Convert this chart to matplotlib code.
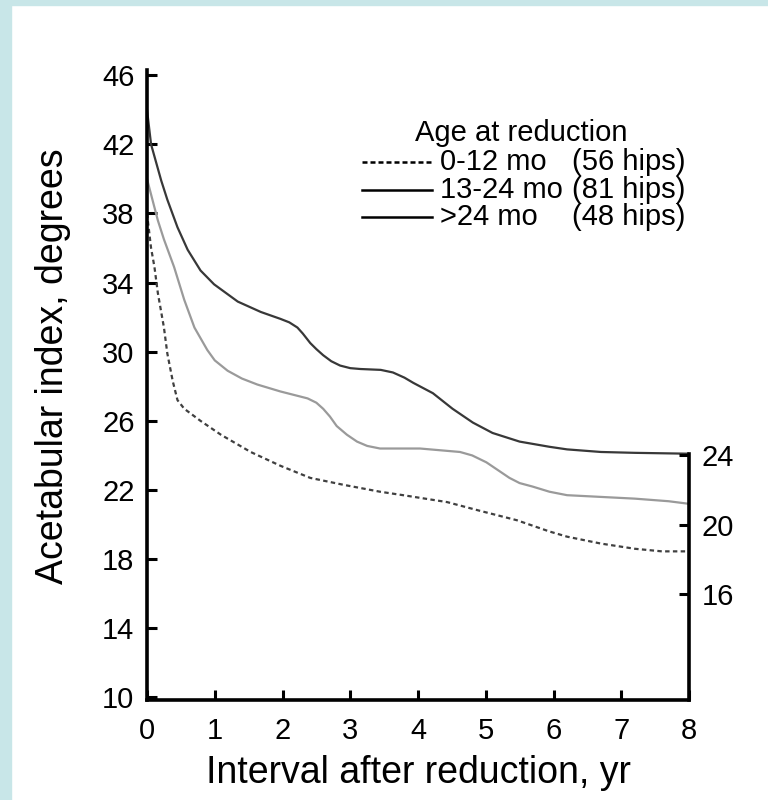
import numpy as np
import matplotlib.pyplot as plt
from matplotlib.lines import Line2D
from matplotlib.patches import Rectangle

plt.rcParams['font.family'] = ['Liberation Sans', 'DejaVu Sans']

# Acetabular index over time, by age at reduction
x_young = [0, 0.06, 0.11, 0.16, 0.25, 0.3, 0.38, 0.45, 0.55, 0.79, 1.09, 1.53, 1.97,
           2.41, 2.9, 3.44, 3.78, 4.43, 4.91, 5.46, 5.94, 6.2, 6.7, 7.2, 7.6, 8.0]
y_young = [38.0, 36.0, 34.9, 33.4, 31.4, 29.9, 28.3, 27.2, 26.7, 26.0, 25.2, 24.2, 23.4,
           22.7, 22.3, 21.9, 21.7, 21.3, 20.8, 20.25, 19.6, 19.3, 18.9, 18.6, 18.45, 18.45]

x_mid = [0, 0.08, 0.16, 0.25, 0.4, 0.55, 0.7, 0.89, 1.0, 1.19, 1.4, 1.63, 1.97, 2.37, 2.5,
         2.6, 2.7, 2.8, 2.95, 3.1, 3.25, 3.44, 4.03, 4.62, 4.8, 5.01, 5.18, 5.35, 5.5,
         5.69, 5.94, 6.2, 6.7, 7.2, 7.7, 8.0]
y_mid = [40.0, 38.8, 37.6, 36.5, 34.9, 33.0, 31.4, 30.1, 29.5, 28.9, 28.45, 28.1, 27.7, 27.3,
         27.05, 26.7, 26.25, 25.7, 25.2, 24.8, 24.55, 24.4, 24.4, 24.2, 24.0, 23.6, 23.15,
         22.7, 22.4, 22.2, 21.9, 21.7, 21.6, 21.5, 21.35, 21.2]

x_old = [0, 0.06, 0.11, 0.21, 0.3, 0.45, 0.6, 0.79, 0.99, 1.34, 1.68, 1.97, 2.1, 2.22, 2.3,
         2.41, 2.5, 2.6, 2.72, 2.85, 3.0, 3.15, 3.45, 3.63, 3.8, 3.93, 4.22, 4.51, 4.81,
         5.1, 5.5, 5.94, 6.2, 6.7, 7.2, 8.0]
y_old = [44.0, 42.0, 41.3, 39.9, 38.8, 37.2, 35.9, 34.7, 33.9, 32.9, 32.3, 31.9, 31.7, 31.4,
         31.05, 30.5, 30.15, 29.8, 29.45, 29.2, 29.05, 29.0, 28.95, 28.8, 28.5, 28.2, 27.6,
         26.7, 25.9, 25.3, 24.8, 24.5, 24.35, 24.2, 24.15, 24.1]

group_names = ['0-12 mo', '13-24 mo', '>24 mo']
group_hips = ['(56 hips)', '(81 hips)', '(48 hips)']
left_ticks = [10, 14, 18, 22, 26, 30, 34, 38, 42, 46]
right_ticks = [16, 20, 24]
x_ticks = [0, 1, 2, 3, 4, 5, 6, 7, 8]

fig = plt.figure(figsize=(7.68, 8), dpi=100)
fig.patches.append(Rectangle((0, 0), 11 / 768, 1, transform=fig.transFigure,
                             color='#c8e6e8', zorder=0))
fig.patches.append(Rectangle((0, 1 - 5 / 800), 1, 5 / 800, transform=fig.transFigure,
                             color='#c8e6e8', zorder=0))

ax = fig.add_axes([147 / 768, 100 / 800, 542 / 768, 630 / 800])
ax.patch.set_alpha(0)

ax.plot(x_young, y_young, color='#404040', lw=1.6, ls=(0, (2, 1.5)))
ax.plot(x_mid, y_mid, color='#9a9a9a', lw=1.6)
ax.plot(x_old, y_old, color='#383838', lw=1.6)

ax.set_xlim(0, 8)
ax.set_ylim(9.85, 46.3)
ax.set_xticks(x_ticks)
ax.set_yticks(left_ticks)
ax.tick_params(direction='in', length=7, width=2.2, labelsize=21)
ax.tick_params(axis='x', pad=12)
ax.tick_params(axis='y', pad=9)
for s in ['left', 'bottom']:
    ax.spines[s].set_linewidth(2.6)
ax.spines['top'].set_visible(False)
ax.spines['right'].set_visible(False)

ax.set_xlabel('Interval after reduction, yr', fontsize=27)
ax.xaxis.set_label_coords(0.5, -0.088)
ax.set_ylabel('Acetabular index, degrees', fontsize=27)
ax.yaxis.set_label_coords(-0.14, 0.53)

ax2 = ax.twinx()
ax2.set_ylim(ax.get_ylim())
ax2.set_yticks(right_ticks)
ax2.tick_params(direction='in', length=7, width=2.2, labelsize=21, pad=9)
ax2.spines['right'].set_linewidth(2.6)
ax2.spines['right'].set_bounds(9.85, 24.1)
for s in ['left', 'top', 'bottom']:
    ax2.spines[s].set_visible(False)

# legend drawn by hand to keep the two text columns aligned
styles = [dict(color='black', lw=1.8, ls=(0, (2, 1.2))),
          dict(color='black', lw=1.8), dict(color='black', lw=1.8)]
ax.text(0.494, 0.9, 'Age at reduction', transform=ax.transAxes, fontsize=21,
        va='center', ha='left')
rows = [0.854, 0.81, 0.766]
for yy, name, hips, st in zip(rows, group_names, group_hips, styles):
    ax.add_line(Line2D([0.397, 0.526], [yy, yy], transform=ax.transAxes, **st))
    ax.text(0.541, yy, name, transform=ax.transAxes, fontsize=21, va='center')
    ax.text(0.784, yy, hips, transform=ax.transAxes, fontsize=21, va='center')

fig.savefig('out.png', dpi=100)
